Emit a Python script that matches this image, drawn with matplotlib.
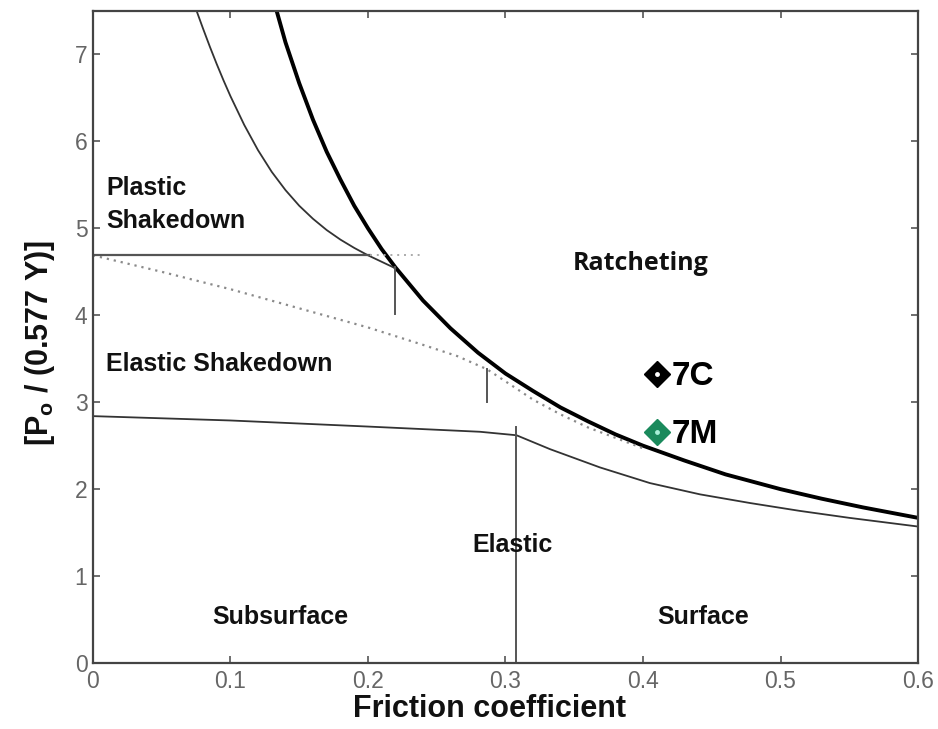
import matplotlib
matplotlib.use('Agg')
import matplotlib.pyplot as plt

# boundary curves
# surface ratcheting limit (thick)
ratchet_mu = [0.1336, 0.14, 0.15, 0.16, 0.17, 0.18, 0.19, 0.20, 0.21, 0.22, 0.24, 0.26, 0.28, 0.30,
              0.32, 0.34, 0.36, 0.38, 0.40, 0.43, 0.46, 0.50, 0.53, 0.56, 0.60]
ratchet_p = [7.50, 7.14, 6.67, 6.25, 5.88, 5.56, 5.26, 5.00, 4.76, 4.55, 4.17, 3.85, 3.57, 3.33,
             3.13, 2.94, 2.78, 2.63, 2.50, 2.33, 2.17, 2.00, 1.89, 1.79, 1.67]

# plastic shakedown limit (thin, top left)
plastic_mu = [0.0754, 0.08, 0.085, 0.09, 0.095, 0.10, 0.11, 0.12, 0.13, 0.14, 0.15, 0.16, 0.17,
              0.18, 0.19, 0.20, 0.21, 0.22]
plastic_p = [7.50, 7.30, 7.09, 6.89, 6.70, 6.52, 6.19, 5.90, 5.65, 5.44, 5.26, 5.11, 4.98,
             4.87, 4.775, 4.69, 4.615, 4.54]

# elastic shakedown limit (dotted)
shake_mu = [0.0, 0.05, 0.10, 0.15, 0.20, 0.24, 0.265, 0.2865, 0.30, 0.32, 0.34, 0.36, 0.38, 0.40]
shake_p = [4.69, 4.50, 4.30, 4.08, 3.86, 3.66, 3.53, 3.38, 3.24, 3.03, 2.86, 2.71, 2.59, 2.47]

# elastic limit (thin, lower)
elastic_mu = [0.0, 0.10, 0.20, 0.2815, 0.308, 0.3324, 0.3687, 0.405, 0.4415, 0.478, 0.514, 0.55, 0.60]
elastic_p = [2.84, 2.79, 2.72, 2.66, 2.62, 2.46, 2.25, 2.07, 1.94, 1.84, 1.75, 1.67, 1.57]

# plastic shakedown plateau
plateau_p = 4.69

# tests
test_names = ['7C', '7M']
test_mu = [0.41, 0.41]
test_p = [3.33, 2.66]
test_edge = ['black', '#1a8a5c']
test_core = ['white', '#a8f0d8']

fig = plt.figure(figsize=(9.38, 7.29), dpi=100)
ax = fig.add_axes([0.0991, 0.0905, 0.8796, 0.8944])

thin = '#333333'
ax.plot(ratchet_mu, ratchet_p, color='black', lw=2.8, solid_capstyle='butt')
ax.plot(plastic_mu, plastic_p, color=thin, lw=1.3)
ax.plot(shake_mu, shake_p, color='#8a8a8a', lw=1.6, ls=(0, (1, 2.2)))
ax.plot(elastic_mu, elastic_p, color=thin, lw=1.3)

ax.plot([0, 0.2015], [plateau_p, plateau_p], color='#555555', lw=1.6)
ax.plot([0.2015, 0.238], [plateau_p, plateau_p], color='#aaaaaa', lw=1.4, ls=(0, (1, 2.5)))
ax.plot([0.22, 0.22], [4.55, 4.01], color='#555555', lw=1.4)
ax.plot([0.2865, 0.2865], [3.38, 3.0], color='#555555', lw=1.4)
ax.plot([0.308, 0.308], [2.72, 0], color='#555555', lw=1.4)

# test points
for name, m, p, ec, fc in zip(test_names, test_mu, test_p, test_edge, test_core):
    ax.plot(m, p, marker='D', ms=13, mfc=ec, mec=ec, mew=1, ls='none')
    ax.plot(m, p, marker='o', ms=3.5, mfc=fc, mec=fc, mew=0, ls='none')
    ax.text(m + 0.0105, p - 0.03, name, fontsize=24, fontweight='bold', family='Liberation Sans',
            ha='left', va='center', color='black')

lbl = dict(fontsize=18, fontweight='bold', family='Liberation Sans', color='#111111')
ax.text(0.0095, 5.46, 'Plastic', ha='left', va='center', **lbl)
ax.text(0.0095, 5.09, 'Shakedown', ha='left', va='center', **lbl)
ax.text(0.0095, 3.44, 'Elastic Shakedown', ha='left', va='center', **lbl)
ax.text(0.305, 1.36, 'Elastic', ha='center', va='center', **lbl)
ax.text(0.136, 0.53, 'Subsurface', ha='center', va='center', **lbl)
ax.text(0.4436, 0.53, 'Surface', ha='center', va='center', **lbl)
ax.text(0.3985, 4.59, 'Ratcheting', ha='center', va='center', fontsize=18, fontweight='bold',
        family='Open Sans', color='#111111')

ax.set_xlim(0, 0.6)
ax.set_ylim(0, 7.5)
ax.set_xticks([0, 0.1, 0.2, 0.3, 0.4, 0.5, 0.6])
ax.set_xticklabels(['0', '0.1', '0.2', '0.3', '0.4', '0.5', '0.6'])
ax.set_yticks(range(0, 8))
ax.tick_params(direction='in', length=5, width=1.2, top=True, right=True, colors='#555555',
               labelsize=16.5, labelcolor='#666666')
ax.tick_params(axis='x', pad=5)
ax.tick_params(axis='y', pad=4)
for lab in ax.get_xticklabels() + ax.get_yticklabels():
    lab.set_family('Liberation Sans')
for s in ax.spines.values():
    s.set_color('#444444')
    s.set_linewidth(1.6)

plt.rcParams['mathtext.fontset'] = 'custom'
plt.rcParams['mathtext.bf'] = 'Liberation Sans:bold'
plt.rcParams['mathtext.rm'] = 'Liberation Sans:bold'
fig.text(0.043, 0.53, r'[P$_\mathbf{o}$ / (0.577 Y)]', rotation=90, ha='center', va='center',
         fontsize=22, fontweight='bold', family='Liberation Sans', color='#111111')
fig.text(0.522, 0.016, 'Friction coefficient', ha='center', va='baseline', fontsize=22,
         fontweight='bold', family='Liberation Sans', color='#111111')

fig.savefig('out.png', dpi=100)
